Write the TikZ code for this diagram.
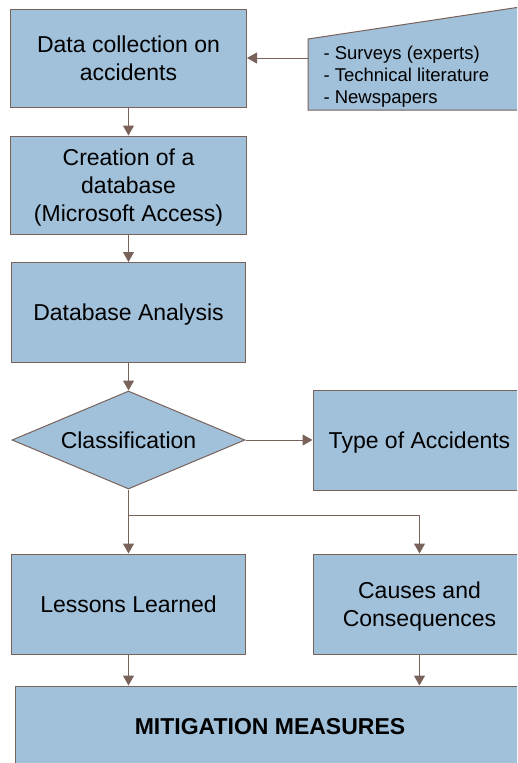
\documentclass[tikz,border=0pt]{standalone}
\usepackage{fontspec}
\setmainfont{Liberation Sans}
\usetikzlibrary{shapes.geometric,arrows.meta}
\definecolor{boxfill}{RGB}{161,192,217}
\definecolor{boxline}{RGB}{120,98,90}
\begin{document}
\begin{tikzpicture}[x=1pt,y=-1pt,
  every node/.style={font=\fontsize{23}{28}\selectfont, align=center, text depth=0pt},
  blk/.style={draw=boxline, fill=boxfill, line width=1pt, rectangle, inner sep=0pt},
  dec/.style={draw=boxline, fill=boxfill, line width=1pt, diamond, inner sep=0pt, minimum width=233pt, minimum height=98pt},
  conn/.style={draw=boxline, line width=1pt, -{Triangle[length=10pt,width=11pt]}},
  plain/.style={draw=boxline, line width=1pt}]
\useasboundingbox (0,0) rectangle (517,763);
\clip (0,0) rectangle (517,763);
% source (manual input)
\draw[plain, fill=boxfill] (308,39) -- (540,4) -- (540,110) -- (308,110) -- cycle;
\node[anchor=west, align=left, font=\fontsize{18.5}{22}\selectfont] (src) at (320,75) {- Surveys (experts)\\- Technical literature\\- Newspapers};
\coordinate (srcw) at (308,58);
% boxes
\node[blk, minimum width=236pt, minimum height=98pt] (b1) at (128.5,58) {Data collection on\\accidents};
\node[blk, minimum width=236pt, minimum height=98pt] (b2) at (128.5,185) {Creation of a\\database\\(Microsoft Access)};
\node[blk, minimum width=234pt, minimum height=100pt] (b3) at (128.5,312.5) {Database Analysis};
\node[dec, label={center:Classification}] (cl) at (128.5,440) {};
\node[blk, minimum width=213pt, minimum height=100pt] (ty) at (419.5,440) {Type of Accidents};
\node[blk, minimum width=234pt, minimum height=100pt] (ll) at (128.5,604) {Lessons Learned};
\node[blk, minimum width=213pt, minimum height=100pt] (cc) at (419.5,604) {Causes and\\Consequences};
\node[blk, minimum width=510pt, minimum height=80pt] (mm) at (270,726) {\textbf{MITIGATION MEASURES}};
% connectors
\draw[conn] (srcw) -- (b1.east);
\draw[conn] (b1) -- (b2);
\draw[conn] (b2) -- (b3);
\draw[conn] (b3) -- (cl.north);
\draw[conn] (cl.east) -- (ty.west);
\draw[conn] (cl.south) -- (ll.north);
\coordinate (br) at (128.5,515);
\draw[conn] (br) -| (cc.north);
\draw[conn] (ll.south) -- (ll.south |- mm.north);
\draw[conn] (cc.south) -- (cc.south |- mm.north);
\end{tikzpicture}
\end{document}
